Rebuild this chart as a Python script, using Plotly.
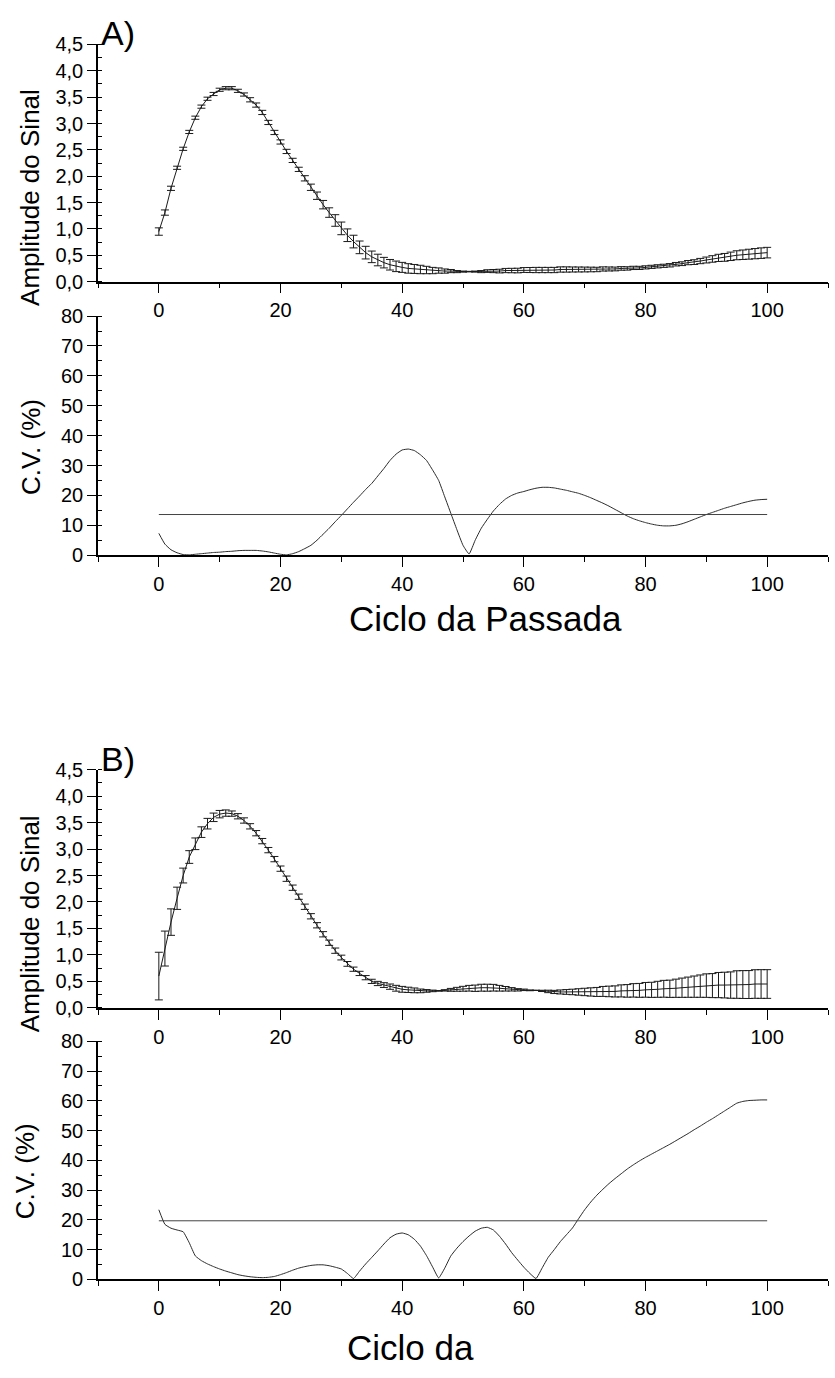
import plotly.graph_objects as go

# ---------------- data ----------------
ciclo = list(range(0, 101))

amp_A_mean = [0.95, 1.31, 1.77, 2.16, 2.52, 2.84, 3.11, 3.32, 3.47, 3.56,
              3.64, 3.67, 3.67, 3.62, 3.55, 3.45, 3.35, 3.21, 3.02, 2.83,
              2.65, 2.47, 2.30, 2.13, 1.96, 1.79, 1.63, 1.46, 1.31, 1.16,
              1.01, 0.88, 0.76, 0.65, 0.55, 0.47, 0.41, 0.36, 0.32, 0.29,
              0.27, 0.25, 0.24, 0.23, 0.22, 0.21, 0.21, 0.20, 0.20, 0.19,
              0.19, 0.19, 0.19, 0.19, 0.20, 0.20, 0.20, 0.21, 0.21, 0.21,
              0.22, 0.22, 0.22, 0.22, 0.22, 0.22, 0.23, 0.23, 0.23, 0.23,
              0.23, 0.23, 0.23, 0.24, 0.24, 0.24, 0.25, 0.25, 0.26, 0.26,
              0.27, 0.28, 0.29, 0.30, 0.31, 0.33, 0.34, 0.36, 0.37, 0.39,
              0.41, 0.43, 0.45, 0.46, 0.48, 0.50, 0.51, 0.52, 0.53, 0.54,
              0.55]
amp_A_sd = [0.07, 0.05, 0.04, 0.03, 0.03, 0.03, 0.03, 0.03, 0.03, 0.03,
            0.03, 0.03, 0.03, 0.03, 0.03, 0.04, 0.04, 0.04, 0.04, 0.04,
            0.04, 0.04, 0.04, 0.04, 0.05, 0.06, 0.07, 0.08, 0.09, 0.11,
            0.12, 0.12, 0.12, 0.12, 0.12, 0.11, 0.11, 0.10, 0.10, 0.10,
            0.095, 0.09, 0.085, 0.08, 0.07, 0.06, 0.05, 0.04, 0.03, 0.02,
            0.01, 0.005, 0.01, 0.02, 0.025, 0.03, 0.035, 0.04, 0.042, 0.044,
            0.046, 0.048, 0.05, 0.05, 0.05, 0.05, 0.05, 0.05, 0.048, 0.047,
            0.046, 0.044, 0.042, 0.04, 0.038, 0.036, 0.034, 0.032, 0.031, 0.03,
            0.03, 0.03, 0.03, 0.03, 0.032, 0.033, 0.036, 0.04, 0.045, 0.05,
            0.056, 0.062, 0.068, 0.074, 0.08, 0.085, 0.09, 0.094, 0.097, 0.10,
            0.10]
cv_A = [7.3, 3.7, 1.8, 0.8, 0.2, 0.1, 0.3, 0.5, 0.7, 0.9,
        1.0, 1.2, 1.3, 1.5, 1.6, 1.6, 1.6, 1.4, 1.1, 0.7,
        0.3, 0.1, 0.5, 1.2, 2.2, 3.3, 5.0, 7.0, 9.0, 11.2,
        13.3, 15.5, 17.7, 19.8, 22.0, 24.0, 26.5, 29.0, 31.7, 33.8,
        35.2, 35.5, 35.0, 33.6, 31.7, 28.5, 25.0, 19.5, 14.0, 8.5,
        3.3, 0.4, 5.0, 9.0, 12.0, 14.8, 17.0, 18.8, 20.0, 20.8,
        21.3, 21.9, 22.4, 22.7, 22.7, 22.5, 22.1, 21.7, 21.2, 20.7,
        20.0, 19.2, 18.3, 17.4, 16.4, 15.3, 14.2, 13.1, 12.2, 11.5,
        10.9, 10.4, 10.0, 9.8, 9.8, 10.0, 10.5, 11.2, 12.0, 12.8,
        13.6, 14.3, 15.0, 15.7, 16.3, 16.9, 17.5, 18.0, 18.4, 18.6,
        18.7]
cv_A_media = 13.6

amp_B_mean = [0.60, 1.12, 1.62, 2.07, 2.50, 2.85, 3.10, 3.32, 3.48, 3.60,
              3.66, 3.68, 3.67, 3.62, 3.54, 3.43, 3.30, 3.15, 2.98, 2.81,
              2.63, 2.44, 2.27, 2.10, 1.91, 1.73, 1.56, 1.39, 1.23, 1.08,
              0.95, 0.83, 0.73, 0.65, 0.57, 0.50, 0.46, 0.43, 0.40, 0.37,
              0.35, 0.34, 0.33, 0.32, 0.32, 0.32, 0.32, 0.33, 0.34, 0.35,
              0.36, 0.37, 0.37, 0.38, 0.38, 0.38, 0.37, 0.36, 0.35, 0.34,
              0.34, 0.33, 0.33, 0.32, 0.31, 0.30, 0.30, 0.30, 0.30, 0.30,
              0.30, 0.30, 0.30, 0.31, 0.31, 0.31, 0.32, 0.32, 0.33, 0.33,
              0.34, 0.34, 0.35, 0.36, 0.36, 0.37, 0.38, 0.39, 0.40, 0.41,
              0.42, 0.42, 0.43, 0.43, 0.43, 0.44, 0.44, 0.44, 0.45, 0.45,
              0.45]
amp_B_sd = [0.45, 0.33, 0.25, 0.21, 0.14, 0.12, 0.11, 0.10, 0.10, 0.08,
            0.07, 0.06, 0.05, 0.05, 0.05, 0.05, 0.05, 0.05, 0.05, 0.05,
            0.05, 0.05, 0.05, 0.05, 0.05, 0.05, 0.05, 0.05, 0.05, 0.05,
            0.045, 0.045, 0.04, 0.04, 0.04, 0.04, 0.04, 0.045, 0.05, 0.055,
            0.055, 0.05, 0.045, 0.035, 0.025, 0.015, 0.005, 0.013, 0.027, 0.037,
            0.046, 0.054, 0.06, 0.065, 0.066, 0.063, 0.054, 0.043, 0.032, 0.022,
            0.014, 0.007, 0.001, 0.012, 0.023, 0.03, 0.038, 0.045, 0.052, 0.061,
            0.07, 0.078, 0.085, 0.094, 0.1, 0.105, 0.114, 0.119, 0.127, 0.131,
            0.139, 0.143, 0.151, 0.159, 0.163, 0.172, 0.182, 0.191, 0.201, 0.211,
            0.222, 0.227, 0.238, 0.243, 0.249, 0.26, 0.263, 0.264, 0.27, 0.271,
            0.271]
cv_B = [23.4, 18.5, 17.2, 16.6, 16.0, 12.3, 7.9, 6.3, 5.2, 4.3,
        3.5, 2.8, 2.2, 1.6, 1.2, 0.9, 0.7, 0.6, 0.7, 1.0,
        1.6, 2.3, 3.1, 3.8, 4.3, 4.7, 4.9, 4.9, 4.6, 4.1,
        3.5, 2.0, 0.3, 2.8, 5.2, 7.4, 9.6, 11.9, 14.0, 15.2,
        15.6, 15.0, 13.5, 11.2, 8.0, 4.2, 0.5, 3.8, 7.9, 10.5,
        12.7, 14.6, 16.2, 17.2, 17.5, 16.6, 14.5, 11.9, 9.0, 6.5,
        4.1, 2.0, 0.3, 3.8, 7.4, 10.0, 12.7, 15.0, 17.3, 20.4,
        23.4, 26.0, 28.3, 30.3, 32.2, 33.9, 35.5, 37.1, 38.5, 39.8,
        41.0, 42.1, 43.2, 44.3, 45.4, 46.6, 47.8, 49.0, 50.3, 51.5,
        52.8, 54.0, 55.3, 56.6, 57.9, 59.2, 59.8, 60.1, 60.2, 60.3,
        60.3]
cv_B_media = 19.7

media_x = [0, 100]
x_ticks = [0, 20, 40, 60, 80, 100]
amp_ticks = [0.0, 0.5, 1.0, 1.5, 2.0, 2.5, 3.0, 3.5, 4.0, 4.5]
cv_ticks = [0, 10, 20, 30, 40, 50, 60, 70, 80]

# ---------------- figure ----------------
W, H = 835, 1378
FONT = "Liberation Sans, Arial, sans-serif"
LINE = "#1a1a1a"

def py(px):
    return 1 - px / H

fig = go.Figure()

def amp_trace(mean, sd, ax):
    return go.Scatter(x=ciclo, y=mean, mode="lines",
                      line=dict(color=LINE, width=1),
                      error_y=dict(type="data", array=sd, visible=True,
                                   color=LINE, thickness=1, width=4),
                      xaxis="x" + ax, yaxis="y" + ax, showlegend=False)

def cv_traces(cv, media, ax):
    return [go.Scatter(x=ciclo, y=cv, mode="lines",
                       line=dict(color="#2a2a2a", width=1, shape="spline",
                                 smoothing=0.4),
                       xaxis="x" + ax, yaxis="y" + ax, showlegend=False),
            go.Scatter(x=media_x, y=[media, media], mode="lines",
                       line=dict(color="#444444", width=1),
                       xaxis="x" + ax, yaxis="y" + ax, showlegend=False)]

fig.add_trace(amp_trace(amp_A_mean, amp_A_sd, ""))
for t in cv_traces(cv_A, cv_A_media, "2"):
    fig.add_trace(t)
fig.add_trace(amp_trace(amp_B_mean, amp_B_sd, "3"))
for t in cv_traces(cv_B, cv_B_media, "4"):
    fig.add_trace(t)

xdom = [98 / W, 828 / W]
ydoms = {
    "": [py(275), py(34)],
    "2": [py(553), py(310)],
    "3": [py(1013), py(771)],
    "4": [py(1289), py(1047)],
}

tickfont = dict(family=FONT, size=20, color="black")

layout = dict(
    width=W, height=H,
    margin=dict(l=0, r=0, t=0, b=0),
    paper_bgcolor="white", plot_bgcolor="white",
    separators=",.",
    showlegend=False,
    font=dict(family=FONT, color="black"),
)

for ax, dom in ydoms.items():
    is_amp = ax in ("", "3")
    layout["xaxis" + ax] = dict(
        domain=xdom, anchor="y" + ax, range=[-10, 110],
        tickvals=x_ticks, ticks="outside", ticklen=10, tickwidth=1.3,
        tickcolor="black", tickfont=tickfont, ticklabelstandoff=0,
        showline=True, linecolor="black", linewidth=1.6,
        showgrid=False, zeroline=False,
        minor=dict(ticks="outside", ticklen=5, tickwidth=1, tickcolor="black",
                   dtick=10, tick0=0, showgrid=False),
    )
    layout["yaxis" + ax] = dict(
        domain=dom, anchor="x" + ax,
        range=[0, 4.5] if is_amp else [0, 80],
        tickvals=amp_ticks if is_amp else cv_ticks,
        tickformat=".1f" if is_amp else "d",
        ticks="outside", ticklen=9, tickwidth=1.3, tickcolor="black",
        tickfont=tickfont,
        showline=True, linecolor="black", linewidth=1.6,
        showgrid=False, zeroline=False,
        minor=dict(ticks="inside", ticklen=4, tickwidth=1, tickcolor="black",
                   dtick=0.25 if is_amp else 5, tick0=0, showgrid=False),
    )

fig.update_layout(**layout)

def label(text, xpx, ypx, size, angle=0):
    fig.add_annotation(text=text, x=xpx / W, y=py(ypx), xref="paper",
                       yref="paper", showarrow=False, textangle=angle,
                       xanchor="center", yanchor="middle",
                       font=dict(family=FONT, size=size, color="black"))

label("A)", 118, 22, 34)
label("B)", 118, 760, 34)
label("Amplitude do Sinal", 30, 190, 26, -90)
label("C.V. (%)", 31, 443, 26, -90)
label("Amplitude do Sinal", 30, 928, 26, -90)
label("C.V. (%)", 25, 1179, 26, -90)
label("Ciclo da Passada", 485, 617, 35)
label("Ciclo da", 410, 1358, 35)

fig.write_html("out.html")
